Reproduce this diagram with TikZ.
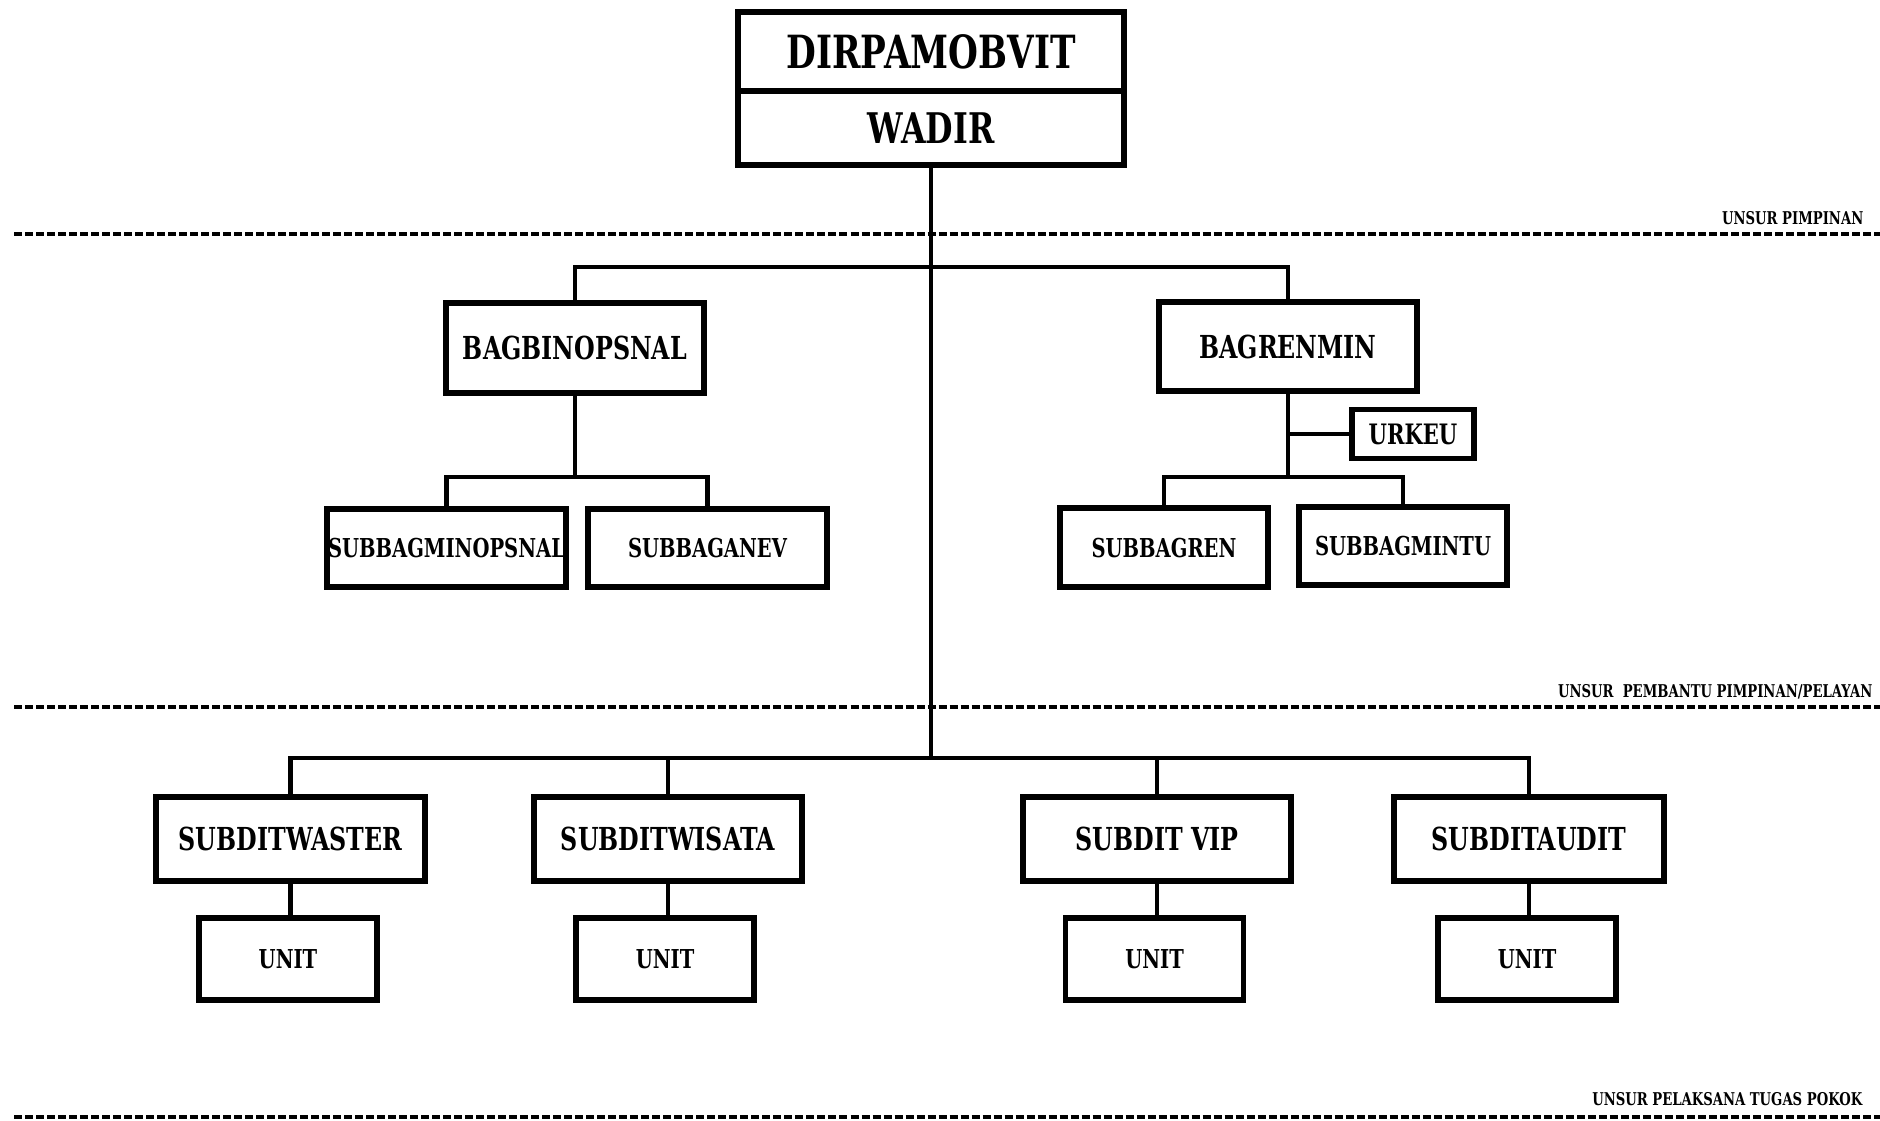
\documentclass[tikz,border=0pt]{standalone}
\usepackage{fontspec}
\setmainfont{DejaVu Serif}[FakeStretch=0.75]
\begin{document}
\begin{tikzpicture}[x=0.01cm,y=-0.01cm,
  box/.style={draw,line width=1.6pt,inner sep=0pt,align=center},
  fa/.style={font=\bfseries\fontsize{13}{15}\selectfont},
  fb/.style={font=\bfseries\fontsize{9}{11}\selectfont},
  fc/.style={font=\bfseries\fontsize{7.4}{9}\selectfont},
  conn/.style={line width=1.25pt},
  sep/.style={line width=0.9pt,dash pattern=on 0.08cm off 0.03cm},
  lbl/.style={font=\bfseries\fontsize{5}{6}\selectfont,inner sep=0pt,anchor=base east}]
\useasboundingbox (0,0) rectangle (1880,1120);

% separator lines
\draw[sep] (14,234) -- (1880,234);
\draw[sep] (14,707) -- (1880,707);
\draw[sep] (14,1117) -- (1880,1117);
\node[lbl] (l1) at (1864,224) {UNSUR PIMPINAN};
\node[lbl] (l2) at (1873,697) {UNSUR\ \ PEMBANTU PIMPINAN/PELAYAN};
\node[lbl] (l3) at (1863,1105) {UNSUR PELAKSANA TUGAS POKOK};

% top
\node[box,fa,minimum width=3.86cm,minimum height=0.79cm] (dir) at (931,51.5) {DIRPAMOBVIT};
\node[box,fa,font=\bfseries\fontsize{12}{14}\selectfont,minimum width=3.86cm,minimum height=0.74cm] (wadir) at (931,128) {WADIR};

% level 2
\node[box,fb,minimum width=2.58cm,minimum height=0.90cm] (bagbin) at (575,348) {BAGBINOPSNAL};
\node[box,fb,minimum width=2.58cm,minimum height=0.89cm] (bagren) at (1288,346.5) {BAGRENMIN};

% level 2 children
\node[box,fc,minimum width=2.39cm,minimum height=0.78cm] (sbminops) at (446.5,548) {SUBBAGMINOPSNAL};
\node[box,fc,minimum width=2.39cm,minimum height=0.78cm] (sbanev) at (707.5,548) {SUBBAGANEV};
\node[box,font=\bfseries\fontsize{8}{10}\selectfont,minimum width=1.22cm,minimum height=0.49cm] (urkeu) at (1413,434) {URKEU};
\node[box,fc,minimum width=2.08cm,minimum height=0.79cm] (sbren) at (1164,547.5) {SUBBAGREN};
\node[box,fc,minimum width=2.08cm,minimum height=0.78cm] (sbmintu) at (1403,546) {SUBBAGMINTU};

% level 3
\node[box,fb,minimum width=2.69cm,minimum height=0.84cm] (sdwaster) at (290.5,839) {SUBDITWASTER};
\node[box,fb,minimum width=2.68cm,minimum height=0.84cm] (sdwisata) at (668,839) {SUBDITWISATA};
\node[box,fb,minimum width=2.68cm,minimum height=0.84cm] (sdvip) at (1157,839) {SUBDIT VIP};
\node[box,fb,minimum width=2.70cm,minimum height=0.84cm] (sdaudit) at (1529,839) {SUBDITAUDIT};

\node[box,fc,minimum width=1.78cm,minimum height=0.82cm] (u1) at (288,959) {UNIT};
\node[box,fc,minimum width=1.78cm,minimum height=0.82cm] (u2) at (665,959) {UNIT};
\node[box,fc,minimum width=1.78cm,minimum height=0.82cm] (u3) at (1154.5,959) {UNIT};
\node[box,fc,minimum width=1.78cm,minimum height=0.82cm] (u4) at (1527,959) {UNIT};

% junctions
\coordinate (j1) at (931,267);
\coordinate (j3) at (931,758);
\coordinate (jb) at (575,477);
\coordinate (jr) at (1288,477);

% connectors
\draw[conn] (wadir.south) -- (j3);
\draw[conn] (bagbin.north) |- (j1) -| (bagren.north);
\draw[conn] (bagbin.south) -- (jb);
\draw[conn] (sbminops.north) |- (jb) -| (sbanev.north);
\draw[conn] (bagren.south) -- (jr);
\draw[conn] (urkeu.west) -- (urkeu.west -| bagren.south);
\draw[conn] (sbren.north) |- (jr) -| (sbmintu.north);
\draw[conn] (sdwaster.north) |- (j3) -| (sdaudit.north);
\draw[conn] (sdwisata.north) -- (sdwisata.north |- j3);
\draw[conn] (sdvip.north) -- (sdvip.north |- j3);
\draw[conn] (sdwaster.south) -- (u1.north -| sdwaster.south);
\draw[conn] (sdwisata.south) -- (u2.north -| sdwisata.south);
\draw[conn] (sdvip.south) -- (u3.north -| sdvip.south);
\draw[conn] (sdaudit.south) -- (u4.north -| sdaudit.south);
\end{tikzpicture}
\end{document}
